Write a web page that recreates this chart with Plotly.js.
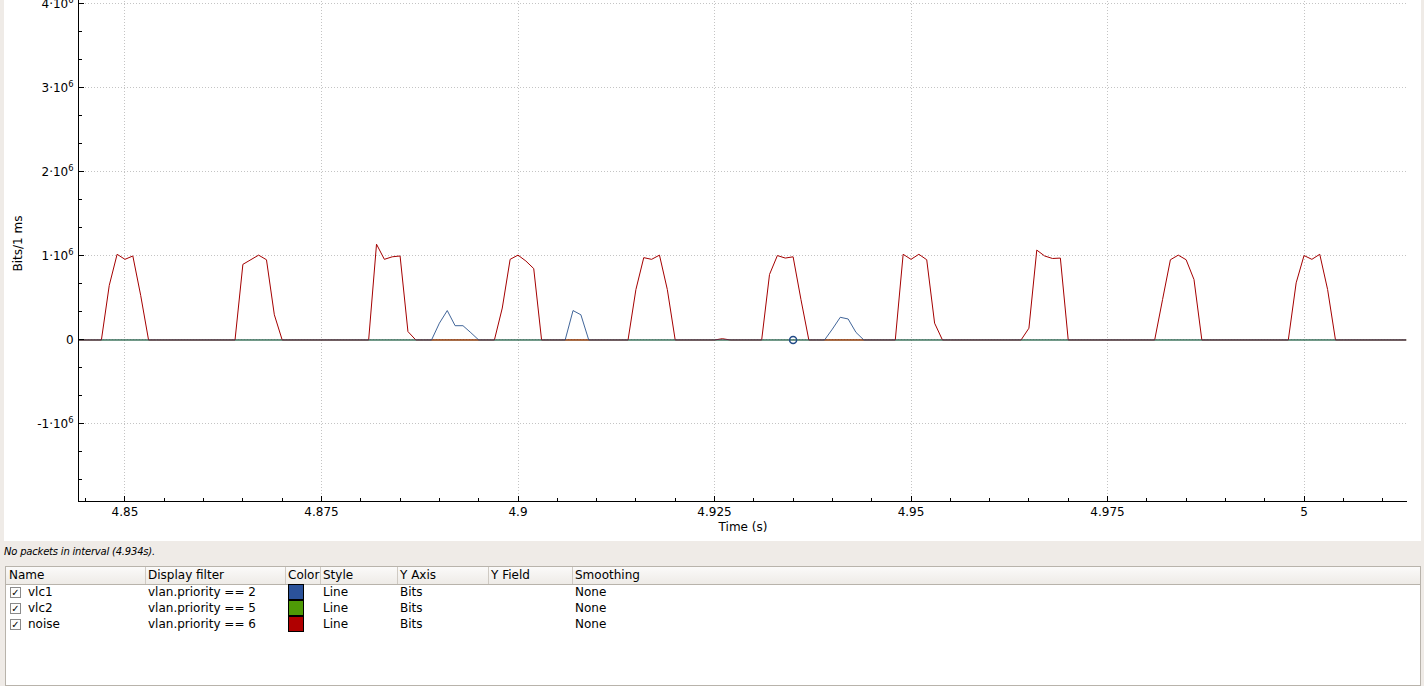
<!DOCTYPE html>
<html>
<head>
<meta charset="utf-8">
<script src="https://cdn.plot.ly/plotly-3.0.1.min.js"></script>
<style>
  html, body { margin:0; padding:0; }
  body { width:1424px; height:686px; overflow:hidden; background:#efebe7; position:relative; font-family:'DejaVu Sans', sans-serif; }
  #plot { position:absolute; left:4px; top:-14px; width:1417px; height:555px; }
  #status { position:absolute; left:4px; top:546px; font-size:10px; font-style:italic; letter-spacing:-0.2px; color:#000; white-space:nowrap; }
  #table { position:absolute; left:5px; top:566px; width:1416px; height:120px; background:#fff; border:1px solid #b8b3ab; box-sizing:border-box; font-size:12px; color:#000; }
  #hdr { position:absolute; left:0; top:0; right:0; height:17px; background:linear-gradient(#fbfaf9,#eeebe7); border-bottom:1px solid #b8b3ab; }
  .h { position:absolute; top:0; height:17px; line-height:17px; white-space:nowrap; }
  .sep { position:absolute; top:0; width:1px; height:17px; background:#cfcac3; }
  .c { position:absolute; height:16px; line-height:16px; white-space:nowrap; }
  .cb { position:absolute; width:11px; height:11px; border:1px solid #8a8a8a; background:#fdfdfd; box-sizing:border-box; font-size:10px; line-height:10px; text-align:center; font-weight:bold; }
  .sw { position:absolute; width:16px; height:16px; border:1px solid #000; box-sizing:border-box; }
</style>
</head>
<body>
<div id="plot"></div>
<div id="status"></div>
<div id="table"><div id="hdr"></div></div>
<script>
// ---- data (1 ms bins) ----
const timeS = [
  4.843,4.844,4.845,4.846,4.847,4.848,4.849,4.850,4.851,4.852,
  4.853,4.854,4.855,4.856,4.857,4.858,4.859,4.860,4.861,4.862,
  4.863,4.864,4.865,4.866,4.867,4.868,4.869,4.870,4.871,4.872,
  4.873,4.874,4.875,4.876,4.877,4.878,4.879,4.880,4.881,4.882,
  4.883,4.884,4.885,4.886,4.887,4.888,4.889,4.890,4.891,4.892,
  4.893,4.894,4.895,4.896,4.897,4.898,4.899,4.900,4.901,4.902,
  4.903,4.904,4.905,4.906,4.907,4.908,4.909,4.910,4.911,4.912,
  4.913,4.914,4.915,4.916,4.917,4.918,4.919,4.920,4.921,4.922,
  4.923,4.924,4.925,4.926,4.927,4.928,4.929,4.930,4.931,4.932,
  4.933,4.934,4.935,4.936,4.937,4.938,4.939,4.940,4.941,4.942,
  4.943,4.944,4.945,4.946,4.947,4.948,4.949,4.950,4.951,4.952,
  4.953,4.954,4.955,4.956,4.957,4.958,4.959,4.960,4.961,4.962,
  4.963,4.964,4.965,4.966,4.967,4.968,4.969,4.970,4.971,4.972,
  4.973,4.974,4.975,4.976,4.977,4.978,4.979,4.980,4.981,4.982,
  4.983,4.984,4.985,4.986,4.987,4.988,4.989,4.990,4.991,4.992,
  4.993,4.994,4.995,4.996,4.997,4.998,4.999,5.000,5.001,5.002,
  5.003,5.004,5.005,5.006,5.007,5.008,5.009,5.010,5.011,5.012,
  5.013
];
const vlc1Bits = [
  0,0,0,0,0,0,0,0,0,0,
  0,0,0,0,0,0,0,0,0,0,
  0,0,0,0,0,0,0,0,0,0,
  0,0,0,0,0,0,0,0,0,0,
  0,0,0,0,0,0,0,200000,350000,170000,
  170000,87000,0,0,0,0,0,0,0,0,
  0,0,0,0,350000,300000,0,0,0,0,
  0,0,0,0,0,0,0,0,0,0,
  0,0,0,0,0,0,0,0,0,0,
  0,0,0,0,0,0,0,130000,270000,250000,
  90000,0,0,0,0,0,0,0,0,0,
  0,0,0,0,0,0,0,0,0,0,
  0,0,0,0,0,0,0,0,0,0,
  0,0,0,0,0,0,0,0,0,0,
  0,0,0,0,0,0,0,0,0,0,
  0,0,0,0,0,0,0,0,0,0,
  0,0,0,0,0,0,0,0,0,0,
  0
];
const vlc2Bits = [
  0,0,0,0,0,0,0,0,0,0,
  0,0,0,0,0,0,0,0,0,0,
  0,0,0,0,0,0,0,0,0,0,
  0,0,0,0,0,0,0,0,0,0,
  0,0,0,0,0,0,0,0,0,0,
  0,0,0,0,0,0,0,0,0,0,
  0,0,0,0,0,0,0,0,0,0,
  0,0,0,0,0,0,0,0,0,0,
  0,0,0,0,0,0,0,0,0,0,
  0,0,0,0,0,0,0,0,0,0,
  0,0,0,0,0,0,0,0,0,0,
  0,0,0,0,0,0,0,0,0,0,
  0,0,0,0,0,0,0,0,0,0,
  0,0,0,0,0,0,0,0,0,0,
  0,0,0,0,0,0,0,0,0,0,
  0,0,0,0,0,0,0,0,0,0,
  0,0,0,0,0,0,0,0,0,0,
  0
];
const noiseBits = [
  0,0,0,0,0,650000,1020000,960000,1000000,530000,
  0,0,0,0,0,0,0,0,0,0,
  0,0,900000,960000,1010000,955000,300000,0,0,0,
  0,0,0,0,0,0,0,0,0,1140000,
  960000,990000,1000000,100000,0,0,0,0,0,0,
  0,0,0,0,0,380000,960000,1010000,940000,850000,
  0,0,0,0,0,0,0,0,0,0,
  0,0,600000,980000,960000,1010000,600000,0,0,0,
  0,0,0,15000,0,0,0,0,0,780000,
  1005000,975000,990000,480000,0,0,0,0,0,0,
  0,0,0,0,0,0,1020000,960000,1020000,955000,
  200000,0,0,0,0,0,0,0,0,0,
  0,0,140000,1070000,1000000,970000,975000,0,0,0,
  0,0,0,0,0,0,0,0,0,480000,
  955000,1010000,955000,720000,0,0,0,0,0,0,
  0,0,0,0,0,0,680000,1005000,960000,1020000,
  600000,0,0,0,0,0,0,0,0,0,
  0
];
const tracerTime = [4.935];
const tracerValue = [0];

const xTickVals = [4.85, 4.875, 4.9, 4.925, 4.95, 4.975, 5];
const xTickText = ['4.85', '4.875', '4.9', '4.925', '4.95', '4.975', '5'];
const xMinorVals = [4.845,4.855,4.86,4.865,4.87,4.88,4.885,4.89,4.895,4.905,4.91,4.915,4.92,4.93,4.935,4.94,4.945,4.955,4.96,4.965,4.97,4.98,4.985,4.99,4.995,5.005,5.01];
const yTickVals = [-1e6, 0, 1e6, 2e6, 3e6, 4e6];
const yTickText = ['-1\u00b710<sup>6</sup>', '0', '1\u00b710<sup>6</sup>', '2\u00b710<sup>6</sup>', '3\u00b710<sup>6</sup>', '4\u00b710<sup>6</sup>'];
const yMinorVals = [-1666667,-1333333,-666667,-333333,333333,666667,1333333,1666667,2333333,2666667,3333333,3666667];

const seriesNames = ['vlc1', 'vlc2', 'noise'];
const displayFilters = ['vlan.priority == 2', 'vlan.priority == 5', 'vlan.priority == 6'];
const seriesStyles = ['Line', 'Line', 'Line'];
const seriesYAxis = ['Bits', 'Bits', 'Bits'];
const seriesSmoothing = ['None', 'None', 'None'];
const seriesColors = ['#204a87', '#4e9a06', '#a40000'];
const swatchColors = ['#2b529a', '#4e9a06', '#b00000'];
const headers = ['Name', 'Display filter', 'Color', 'Style', 'Y Axis', 'Y Field', 'Smoothing'];
const statusText = 'No packets in interval (4.934s).';

// ---- chart ----
const traces = [
  {x: timeS, y: vlc2Bits, type:'scatter', mode:'lines', name: seriesNames[1], line:{color: seriesColors[1], width:1}},
  {x: timeS, y: noiseBits, type:'scatter', mode:'lines', name: seriesNames[2], line:{color: seriesColors[2], width:1}},
  {x: timeS, y: vlc1Bits, type:'scatter', mode:'lines', name: seriesNames[0], line:{color: seriesColors[0], width:1}, opacity:0.85},
  {x: tracerTime, y: tracerValue, type:'scatter', mode:'markers', name:'tracer',
   marker:{symbol:'circle-open', size:7, color: seriesColors[0], line:{width:1.5, color: seriesColors[0]}}}
];

const axisCommon = {
  ticks:'inside', ticklen:5, tickwidth:1, tickcolor:'#000',
  showline:true, linecolor:'#000', linewidth:1, mirror:false,
  showgrid:true, gridcolor:'#c4c4c4', griddash:'1px,2px', gridwidth:1,
  zeroline:false, automargin:false, fixedrange:true,
  tickfont:{family:'DejaVu Sans', size:12, color:'#000'}
};

const layout = {
  width:1417, height:555,
  margin:{l:75, r:14, t:0, b:40, pad:0},
  paper_bgcolor:'#ffffff', plot_bgcolor:'#ffffff',
  showlegend:false,
  font:{family:'DejaVu Sans, sans-serif', size:12, color:'#000'},
  xaxis: Object.assign({}, axisCommon, {
    range:[4.84415, 5.0131], tickmode:'array', tickvals:xTickVals, ticktext:xTickText,
    minor:{tickmode:'array', tickvals:xMinorVals, ticks:'inside', ticklen:3, tickcolor:'#000', showgrid:false},
    title:{text:'Time (s)', standoff:4, font:{family:'DejaVu Sans', size:12, color:'#000'}}
  }),
  yaxis: Object.assign({}, axisCommon, {
    range:[-1.917e6, 4.214e6], tickmode:'array', tickvals:yTickVals, ticktext:yTickText,
    ticklabelstandoff:2,
    minor:{tickmode:'array', tickvals:yMinorVals, ticks:'inside', ticklen:3, tickcolor:'#000', showgrid:false},
    title:{text:'Bits/1 ms', standoff:11, font:{family:'DejaVu Sans', size:12, color:'#000'}}
  })
};

Plotly.newPlot('plot', traces, layout, {displayModeBar:false, staticPlot:true});

// ---- status + series table ----
document.getElementById('status').textContent = statusText;
const tbl = document.getElementById('table');
const hdr = document.getElementById('hdr');
const colText = [3, 142, 282, 317, 394, 485, 569];
const colSep = [139, 279, 314, 391, 482, 566];
headers.forEach((h, i) => {
  const d = document.createElement('div'); d.className = 'h'; d.style.left = colText[i] + 'px'; d.textContent = h; hdr.appendChild(d);
});
colSep.forEach(x => { const s = document.createElement('div'); s.className = 'sep'; s.style.left = x + 'px'; hdr.appendChild(s); });
seriesNames.forEach((n, i) => {
  const top = 17 + i * 16;
  const cb = document.createElement('div'); cb.className = 'cb'; cb.style.left = '4px'; cb.style.top = (top + 3) + 'px'; cb.textContent = '\u2713'; tbl.appendChild(cb);
  const cells = [[22, n], [142, displayFilters[i]], [317, seriesStyles[i]], [394, seriesYAxis[i]], [569, seriesSmoothing[i]]];
  cells.forEach(([x, t]) => { const d = document.createElement('div'); d.className = 'c'; d.style.left = x + 'px'; d.style.top = top + 'px'; d.textContent = t; tbl.appendChild(d); });
  const sw = document.createElement('div'); sw.className = 'sw'; sw.style.left = '282px'; sw.style.top = top + 'px'; sw.style.background = swatchColors[i]; tbl.appendChild(sw);
});
</script>
</body>
</html>
